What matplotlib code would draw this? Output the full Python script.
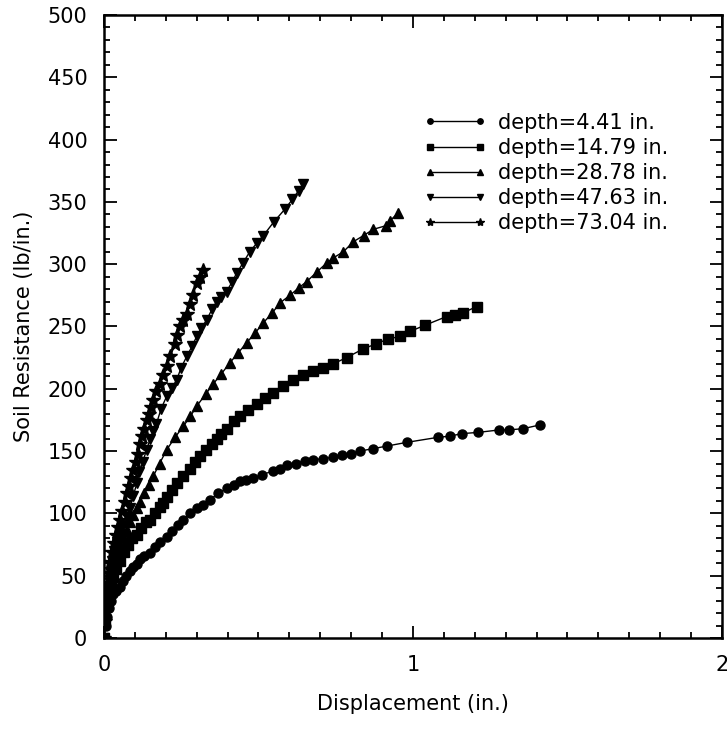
import matplotlib
matplotlib.use("Agg")
import matplotlib.pyplot as plt
from matplotlib.ticker import MultipleLocator

plt.rcParams['font.family'] = ['DejaVu Sans']

# depth = 4.41 in.
x1 = [0, 0.005, 0.009, 0.015, 0.022, 0.03, 0.04, 0.052, 0.062, 0.072, 0.083, 0.095, 0.106, 0.118,
      0.13, 0.149, 0.165, 0.18, 0.203, 0.22, 0.24, 0.257, 0.28, 0.3, 0.32, 0.343, 0.37, 0.397, 0.42,
      0.44, 0.46, 0.483, 0.51, 0.548, 0.57, 0.591, 0.62, 0.65, 0.677, 0.71, 0.742, 0.77, 0.80, 0.828,
      0.872, 0.915, 0.98, 1.08, 1.12, 1.158, 1.211, 1.28, 1.31, 1.357, 1.411]
y1 = [0, 10, 17, 24, 30, 35, 38, 41, 46, 50, 54, 57, 59, 63, 66, 68, 73, 77, 81, 86, 91, 95, 100,
      104, 107, 111, 116, 120, 123, 126, 127, 128, 131, 134, 136, 139, 140, 142, 143, 144, 145, 147,
      148, 150, 152, 154, 157, 161, 162, 164, 165, 167, 167, 168, 171]

# depth = 14.79 in.
x2 = [0, 0.004, 0.009, 0.015, 0.022, 0.03, 0.04, 0.052, 0.065, 0.078, 0.092, 0.106, 0.12, 0.135,
      0.149, 0.165, 0.18, 0.192, 0.203, 0.22, 0.235, 0.255, 0.278, 0.295, 0.311, 0.33, 0.35, 0.365,
      0.38, 0.397, 0.42, 0.44, 0.465, 0.494, 0.52, 0.548, 0.58, 0.613, 0.645, 0.677, 0.71, 0.742,
      0.785, 0.839, 0.88, 0.92, 0.958, 0.99, 1.039, 1.109, 1.136, 1.163, 1.206]
y2 = [0, 15, 30, 38, 44, 49, 55, 62, 69, 75, 80, 83, 88, 93, 95, 100, 105, 108, 113, 119, 124, 130,
      136, 141, 146, 151, 156, 160, 164, 168, 174, 178, 183, 188, 193, 197, 202, 207, 211, 214, 217,
      220, 225, 232, 236, 240, 242, 246, 251, 258, 259, 261, 266]

# depth = 28.78 in.
x3 = [0, 0.004, 0.008, 0.013, 0.02, 0.028, 0.037, 0.046, 0.055, 0.065, 0.073, 0.085, 0.095, 0.106,
      0.117, 0.13, 0.145, 0.16, 0.18, 0.203, 0.23, 0.257, 0.28, 0.3, 0.33, 0.354, 0.38, 0.408, 0.435,
      0.462, 0.49, 0.516, 0.545, 0.57, 0.602, 0.63, 0.656, 0.69, 0.721, 0.742, 0.775, 0.807, 0.84,
      0.872, 0.914, 0.926, 0.952]
y3 = [0, 15, 28, 38, 47, 55, 62, 69, 75, 81, 87, 93, 99, 104, 109, 116, 123, 130, 140, 151, 161,
      170, 178, 186, 196, 204, 212, 221, 229, 237, 245, 253, 261, 269, 275, 281, 286, 294, 301, 305,
      310, 318, 323, 328, 331, 335, 341]

# depth = 47.63 in.
x4 = [0, 0.003, 0.007, 0.012, 0.018, 0.025, 0.033, 0.042, 0.052, 0.062, 0.073, 0.083, 0.095, 0.106,
      0.115, 0.125, 0.138, 0.15, 0.16, 0.17, 0.185, 0.203, 0.22, 0.235, 0.25, 0.268, 0.285, 0.3,
      0.315, 0.332, 0.35, 0.365, 0.38, 0.397, 0.415, 0.43, 0.45, 0.472, 0.495, 0.516, 0.55, 0.585,
      0.61, 0.63, 0.645]
y4 = [0, 15, 30, 42, 53, 62, 70, 77, 83, 90, 97, 104, 114, 124, 133, 141, 151, 160, 166, 172, 184,
      194, 201, 207, 217, 226, 234, 242, 249, 255, 264, 270, 274, 278, 286, 293, 301, 310, 317, 323,
      334, 344, 352, 359, 364]

# depth = 73.04 in.
x5 = [0, 0.003, 0.006, 0.01, 0.015, 0.02, 0.026, 0.032, 0.038, 0.045, 0.052, 0.06, 0.067, 0.073,
      0.08, 0.088, 0.095, 0.103, 0.11, 0.117, 0.124, 0.131, 0.138, 0.145, 0.152, 0.16, 0.17, 0.181,
      0.192, 0.203, 0.215, 0.23, 0.238, 0.246, 0.257, 0.268, 0.278, 0.289, 0.3, 0.31, 0.321]
y5 = [0, 14, 28, 40, 52, 61, 69, 76, 83, 89, 95, 102, 109, 116, 122, 128, 135, 141, 148, 156, 162,
      168, 175, 180, 185, 191, 198, 204, 211, 218, 226, 236, 243, 250, 255, 260, 268, 275, 285, 290,
      295]

labels = ["depth=4.41 in.", "depth=14.79 in.", "depth=28.78 in.",
          "depth=47.63 in.", "depth=73.04 in."]

fig = plt.figure(figsize=(7.27, 7.39), dpi=100)
ax = fig.add_axes([0.143, 0.1367, 0.85, 0.843])

series = [(x1, y1, 'o', 6.5), (x2, y2, 's', 6.5), (x3, y3, '^', 7.5),
          (x4, y4, 'v', 7.5), (x5, y5, '*', 10)]
for (xs, ys, m, ms), lab in zip(series, labels):
    ax.plot(xs, ys, color='black', lw=1.0, marker=m, markersize=ms,
            markerfacecolor='black', markeredgecolor='black', label=lab)

ax.set_xlim(0, 2)
ax.set_ylim(0, 500)
ax.xaxis.set_major_locator(MultipleLocator(1))
ax.xaxis.set_minor_locator(MultipleLocator(0.1))
ax.yaxis.set_major_locator(MultipleLocator(50))
ax.yaxis.set_minor_locator(MultipleLocator(10))
ax.tick_params(which='both', direction='in', top=True, right=True, width=1.3,
               labelsize=15, pad=12)
ax.tick_params(which='major', length=9)
ax.tick_params(which='minor', length=4.5)
for s in ax.spines.values():
    s.set_linewidth(1.8)

ax.set_xlabel("Displacement (in.)", fontsize=15, labelpad=14)
ax.set_ylabel("Soil Resistance (lb/in.)", fontsize=15, labelpad=10)

leg = ax.legend(loc='upper left', bbox_to_anchor=(0.5, 0.86), frameon=False,
                fontsize=15, numpoints=2, markerscale=0.6, handlelength=3.0,
                handletextpad=0.6, labelspacing=0.25, borderpad=0.0)

fig.savefig("out.png", dpi=100)
